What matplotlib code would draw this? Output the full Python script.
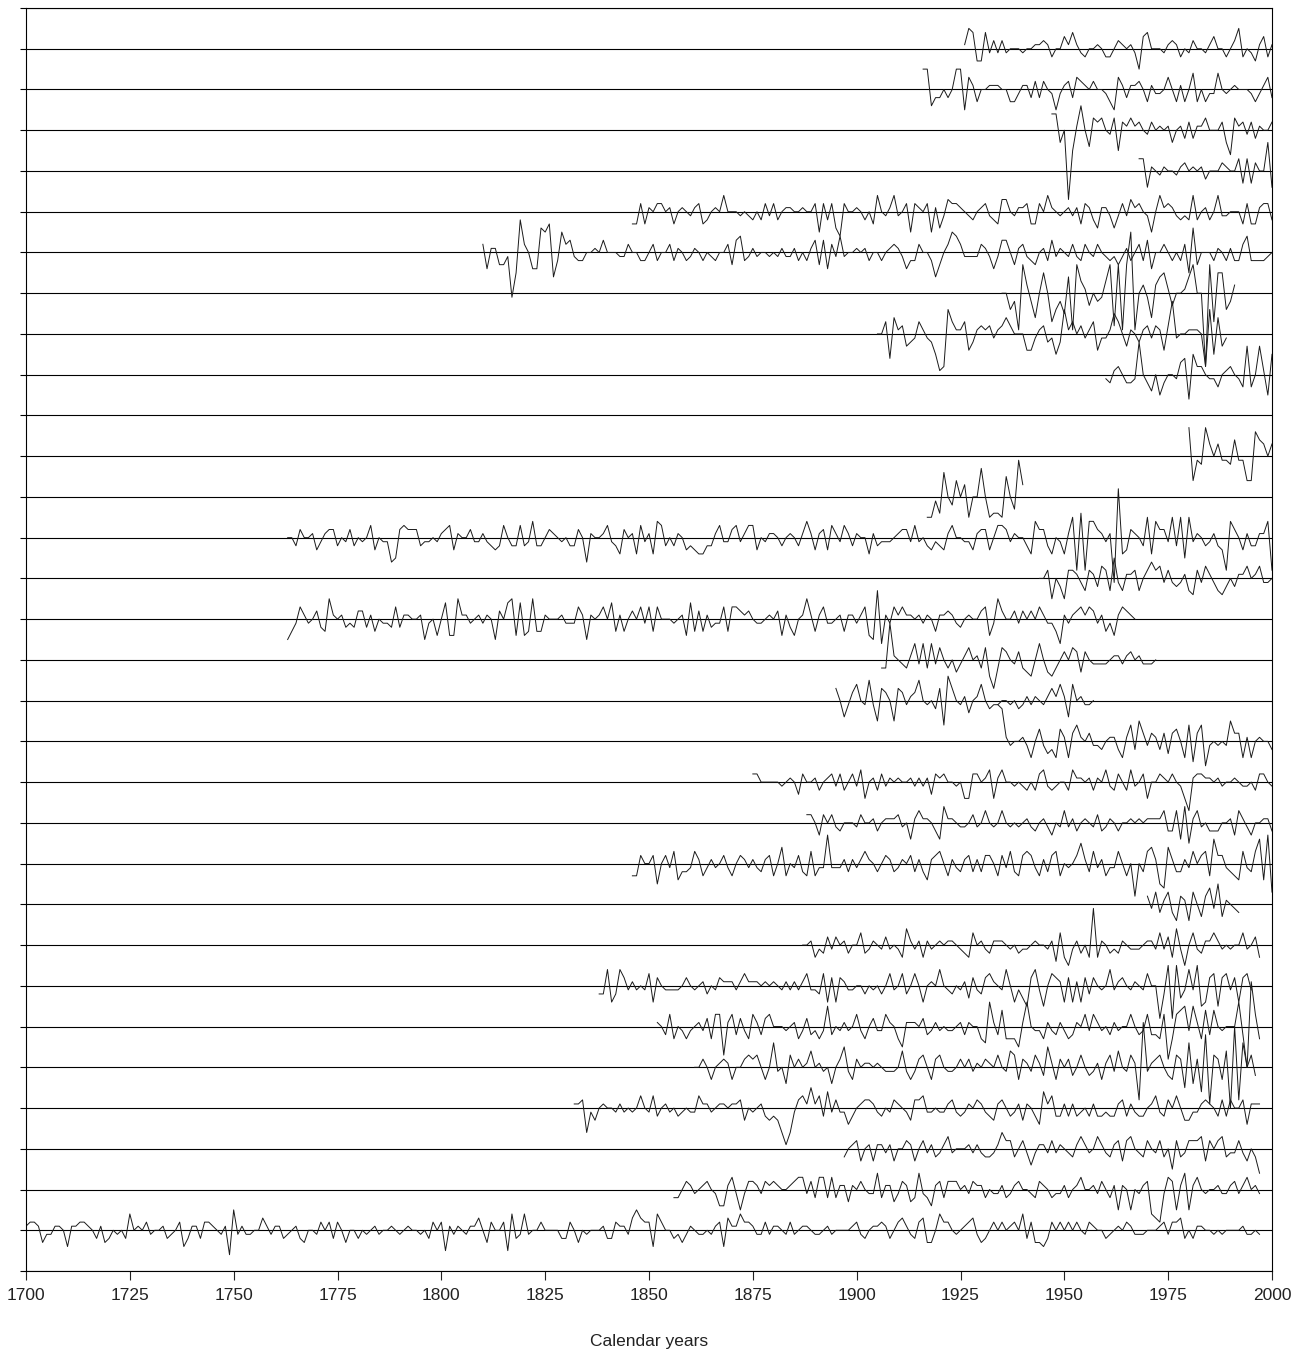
import numpy as np
import matplotlib
matplotlib.use("Agg")
import matplotlib.pyplot as plt

plt.rcParams['font.family'] = ['Liberation Sans', 'DejaVu Sans']

# ring-width series, values in tenths of one row spacing, one value per year
# row number -> (first year, values); row 21 has nothing inside 1700-2000
s01 = [1, 2, 2, 1, -3, -1, -1, 1, 1, 0,
       -4, 1, 1, 2, 2, 1, 0, -2, 1, -3,
       -2, 0, -1, 0, -2, 4, 0, 1, 0, 2,
       -1, 0, 0, 1, -2, -1, 0, 2, -4, -2,
       1, 1, -2, 2, 2, 1, 0, -1, 1, -6,
       5, -1, 1, -1, -1, 0, 0, 3, 1, -1,
       1, 1, -2, -1, 0, 1, -2, -3, 0, 0,
       -1, 2, 0, 2, -2, 2, 0, -3, 0, 0,
       -2, 0, -1, 0, 1, -1, 0, 0, 1, 0,
       -1, 0, 1, 0, 0, -1, 0, -2, 2, 0,
       2, -5, 1, -1, 1, 0, -1, 1, 1, 3,
       0, -3, 2, 0, 0, 2, -5, 4, -2, -1,
       4, -1, 0, 0, 2, 0, 0, 0, 0, -2,
       -2, 2, 0, -3, 0, -1, 0, 0, 0, 1,
       -2, -2, 2, 1, 1, -1, 3,
       5, 3, 2, 2, -4, 4, 2, 0, 0, -2,
       -1, -3, -1, 1, 0, -1, -1, 0, -1,
       1, 2, -4, 3, 1, 1, 4, 2, 2,
       1, -1, -1, 2, -1, 1, 1, 0, -1,
       2, -1, 0, 1, 1, 0, -1, -1, 0,
       1, -1, 0, 0, 0, 0, 1, 2, -1,
       -2, 0, 1, 1, 2, 1, -2, 0, 2, 3,
       1, -1, -2, 2, 3, -3, -3, 0, 4, 2,
       2, 0, -1, 0, 1, 2, 3, -1, -3, -2,
       0, 2, 0, 2, 0, 1, 2, 0, 4, -2,
       2, -3, -3, -4, -2, 2, 0, 2, 0, 2,
       0, 2, 0, -1, 2, 1, 0, 0, -2, -1,
       0, 1, 0, 2, 1, -1, -1, -1, 0, 0,
       0, 1, 2, -1, 2, 2, 3, -2, 0, -2,
       1, 1, 0, 0, -1, 0, -1, 0, 0, 0,
       0, 1, -1, -1, 0, -1]
s02 = [-2, -2, 0, 2, 1, -1, 0, 1, 2,
       0, -1, -4, -4, 1, 3, -1, -5, -1, 2,
       2, 1, -1, 2, 1, 2, 1, 0,
       0, 1, 2, 3, 3, -1, 2, -2,
       3, 3, -2, 3, -2, 1, 1, -3,
       1, 0, 2, 0, -1, -1, 4, -2, 1, 1,
       -3, -1, 2, 1, -3, -2, 4, -1, -2, -4,
       1, 2, -2, 2, 2, 2, 0, 1,
       -1, 2, 1, 1, -2, 0, -1, -1,
       1, -2, -1, 1, 2, 0, 0,
       -1, -2, 2, 1, 0, -2, -1, -1, 1, -2,
       0, 1, 3, 0,
       0, 1, -1, 2, 0, -2, 1, -5, 1, 0,
       -5, 0, -1, 1, 2, -6, -7, -8, -1, 3,
       2, -5, 1, 4, -5, 1, 3, 0, -1, 0,
       0, 1, -1, -1, 1, 2, -1, 1, 3, 0,
       1, -1]
s03 = [-2, 0, 1, 2, -3, 0, 1, -3, 1, 1,
       -1, 1, -3, 0, 0, 2, 1, -3, 0, 2,
       -1, 1, -2, -1, 1, 3, -1, 0, 0,
       0, 1, -1, 1, -1, -2, -2, -1, 1, 4,
       2, 2, -2, 0, 2, -1, -4, -1, 1,
       1, -1, 2, -1, 1, 0, -1, -2,
       1, 3, 1, -1, 0, 3, 1, -1, -2,
       1, 2, -3, 2, 3, 0, -1, -2,
       2, 0, -1, 2, -2, 0, -5, 2, -2,
       -1, 2, 2, 2, 3, -3, 2,
       0, 2, 3, -2, -1, -1, 2, -1, -3, 0,
       -2, -6]
s04 = [1, 1, 2, -6, -1, -3, 0, 1, 0, 0,
       -1, 1, -1, 0, -1, 0, 3,
       0, -1, 3, -2, 0, 1, -1, 0, -2, -1,
       0, -1, -1, 3, 1, 1, -1, 0, 1, 1,
       0, 1, 1, 2, -3, 0, -1, 0,
       1, -2, -3, -2, -3, -6, -9, -6, -1, 2,
       3, 1, 5, 1, 3, -2, 4, -1, 2, -1,
       -1, -4, -2, 0, 1, 2, 2, 1,
       -1, -2, 0, -1, 2, 1, 0, -1,
       -3, 2, 2, 3, -1, -1, 0, -1,
       -1, 1, 2, -1, -2, -1, 1, 0,
       2, 1, -1, -2, -3, 1, 2, 0,
       -2, -1, 1, -3, 1, 0, -2, -4, 4, 1,
       3, -2, -2, 1, -2, 1, -2, -1,
       0, -2, 1, -2, -2, -1, -2, -2,
       1, 2, -2, 1, -1, -2, -2, 0,
       1, 3, -1, -2, 2, 0, 3, 0, -3,
       -3, -1, -1, 1, 2, 1, 0, -2, 2,
       -2, 2, 0, 0, 2, -4, 1, 1, 1]
s05 = [0, 0, 2, 0, -3, 0, 1, 2, 1, -3,
       0, 0, 2, 3, 2, 3, 0, -3, 0, 6,
       -1, 0, -4, 3, 0, 2, 0, 1, 4, 0,
       1,
       -1, 0, -4, 0, 2, 5, -1, -3, 2, 0,
       1, 1, 0, 1, 0, -1, -1, -1, 0, 4,
       -1, -3, -1, 2, 3, 0, -3, 2, 3, 0,
       -1,
       -1, 0, 2, 0, 2, -1, 1, 0, 2, 1,
       0, 3, 0, -1, 4, 3, -3, 2, 1, -1,
       3, 1, -2, 5, 1, -3, 2, 0, 2, -2,
       0,
       3, 0, -2, -1, 1, -3, 1, 3, -1, 4,
       0, -1, 3, 1, -8, 11, -1, 1, 2, 3,
       0, -2, -3, 3, 2, -5,
       6, -4, 2, -6, 8, -9, 3, 2, -3, 4,
       -10, 10, -8, 6, 0, 3, -2]
s06 = [1, 0, -2, 3, -3, 0, -1, -3, -1, 0,
       1, -1, 2, -3, 3, 3, -7, 1, 3, -2,
       2, -1, -3, 3, 1, -2, 2, 3, 0, 0,
       0,
       -1, 0, 1, -3, -1, 2, -2, -1, -3, -1,
       5, -2, 0, -1, 1, -1, 0, 3, -1, -3,
       0, 2, -1, -1, 3, 1, 0, -3, -5, 1,
       1,
       1, 0, 2, -2, -1, 1, -1, 0, -1, -1,
       0, 1, -2, 1, 0, 0, -3, -4, 6, 1,
       -2, 4, -3, -3, -3, -5, 1, 6, 0, -1,
       -1,
       -3, 1, -1, -2, 1, -1, -3, -2, 1, 0,
       3, -1, 3, 1, -1, 0, -2, 1, -1, 0,
       0,
       3, 0, -2, -1, 3, -2, -2, -3, 3, -8,
       -3, 3, 4, 5, -1, 5, 1, -3, 4, -2,
       4, 0, -1, 0, 0, 0, 6, -2, -10, 11,
       3, -3]
s07 = [-2, -2, 4, -4, -2, 4, 2, -1, 1, -1,
       0, -1, 3, -4, 2, 0, -1, -1, -1, -1,
       0, 2, 0, -1, 0, 1, -2, 0, -1, 2,
       1, 1, 1, -1, 1, 3, 1, 1, 1, 0,
       1, 0, 1, 0, -1, 1, -1, 1, -1, 1,
       3, -1, -1, -2, 3, -4, 2, -4, 2, 1,
       -1, -1, 0, 0, -2, 0, -1, 0, -2, 0,
       3, -1, 0, 3, -2, 0, 3, 0, -4, 0,
       1, 0, 4, 0, -1, -2, 0, -1, 1, -3,
       2, -1, -2, 2, 3, 1, 0, -1, 4, 0,
       -4, -1, -3, -5, 2, 4, -1, -5, 0, 3,
       2, 1, -4, 2, -4, 1, -4, 2, -2, 2,
       0, -1, 0, 4, -1, 1, 2, 0, -1, 1,
       0, -1, 3, 0, 0, -8, -2, 5, -8,
       5, -3, -1, 4, -1, 5, -5, -4, 2, 3,
       -5, 2, 3, -1, 2, -4, 2, 3, -1]
s08 = [0, 0, 1, -3, -1, -2, 2, -1, 2, 0, 1,
       -2, 0, 0, 3, -2, -1, 1, 0, -1, 2, -1,
       0, -1, -3, 4, 1, -1, 1, -3, 1, -1, 0,
       1, 0, 1, 1, 0, -1, -2, -3, 3, 0, 1,
       -1, -2, 1, 1, 1, 0, -1, 0, -2, -1, -1,
       0, 1, 0, 0, -1, 1, -4, 3, -3, -5, -1,
       1, -2, 0, -3, 9, -3, 1, 0, -2, -1, -2,
       1, 0, -1, -1, -1, 0, 1, 1, -1, 3,
       -1, 2, -3, 4, -1, -5, 0, 3, -1, -2, 1,
       1, 3, 1, -1, 0, -1, 0, 0, 3, -1,
       0, 2, -3]
s09 = [2, -1, 3, -2, 1, 3, -2, -4, 2, 1,
       -4, 3, 0, -3, 2, 4, -1, 5, -3, 1,
       0, -1, -2]
s10 = [-3, -3, 2, 0, 0, 2, -5, 0, 2,
       -1, 3, -4, -2, -2, -1, 3, 1, -3,
       -1, 1, -1, 0, 2, -1, -3, 0, 2,
       1, -1, 1, -1, -2, 1, 2, -3, 0,
       4, -3, 0, -1, 2, -2, -3, 3, -3,
       -1, -1, 7, -1, -1, -1, 1, -2, 1,
       -1, 1, 3, 1, 0, -2, 0, 2, 1,
       -2, -1, 1, 0, 2, -2, 1, -2, -4,
       1, 2, 3, 0, -3, 1, -1, -2, 1,
       2, -2, 1, -2, 2, 2, 0, -3, 2,
       -1, 3, -2, -3, 2, 3, 2, -1, -3,
       1, -2, 2, 3, -3, 0, -1, 0,
       2, 5, 1, -2, 3, -1, 1, -3, -1,
       -1, 3, 0, -3, 0, -8, 0, -2, 3,
       4, 1, -5, -6, 4, 1, -2, -2, 1,
       -1, 3, 0, 2, 3, -3, 6, 2, 2,
       -1, -2, -3, -4, 3, -1, -2, 3, 6,
       -4, 7, -7]
s11 = [2, 2, 0, -3, 2, 0, 2, -1, -2, 0,
       0, 0, -1, 2, 0, 0, 1, -2, 0, 1,
       1, 1, 2, -1, 0, -4, 1, 3, 1, 1,
       0, -2, -4, 4, 1, 1, 0, -1, -1, 0,
       2, -1, 0, 3, 0, -1, 0, 3, 0, -1,
       0, -1, 0, 1, -1, -2, 0, 1, -1, -3,
       0, -1, 3, -1, 1, -2, 0, 1, 0, -1,
       2, -2, -1, 1, 0, -2, 0, 0, 1, 0,
       1, 0, 1, 1, 1, 1, 3, -2, -2, 3,
       -4, 4, -5, 1, 3, -1, 0, -2, -2, -2,
       0, 0, 1, -3, 3, 1, -1, -3, 0, 0,
       1, 1, -2]
s12 = [2, 2, 0, 0, 0, 0, 0, -1, 0, 1,
       0, -3, 2, 0, 0, 1, -2, 0, 1, 2,
       -1, 2, -2, 0, 2, -1, 3, -4, 0, 1,
       -2, 2, -1, 1, 0, 1, 0, 0, 1, -1,
       1, -1, 1, -3, 2, 1, 2, 0, 0, -1,
       0, -4, -4, 2, 2, 0, 1, 3, -4, 1,
       3, 0, 0, -1, 0, -1, -2, 0, -2, 2,
       3, -1, -2, -1, 0, 0, -2, 3, 1, 1,
       0, 1, -2, 1, 0, 3, -1, -2, 2, 0,
       -2, 3, -1, 0, 2, -4, 0, 0, 2, 1,
       0, 2, 0, -1, -4, -7, 1, 2, 2, 1,
       1, 0, 1, -1, 0, 0, 1, 0, -1, -1,
       0, -2, 2, 2, 0, -1]
s13 = [9, 8, 1, -1, 0, 0, 1, -1, -4, 0,
       3, -1, -3, -2, -4, 3, 1, -4, 2, 4,
       1, 0, 2, -1, -1, -2, 0, 1, 1, -2,
       -4, 1, 4, -2, 5, 2, -1, 2, 1, -2,
       2, -3, 2, 3, 0, -4, 4, -5, 2, 4,
       -6, -1, 0, -1, 0, -1, 5, 2, 2, -4,
       1, -4, 0, 1, 0, 0, -2]
s14 = [3, 0, -4, -1, 2, 4, 0, -1, 5, -1,
       -5, 3, 2, 0, -5, 3, 2, -1, 1, 2,
       5, 0, -1, 0, -2, 3, -6, 6, 3, 0,
       -1, 1, -3, 0, 1, 4, 0, -2, -1, -1,
       0, 0, -1, 0, -2, -1, 1, -1, 1, 0,
       -1, 1, 3, 1, 4, 1, -4, 4, 0, 1,
       -1, -1, 0]
s15 = [-2, -2, 9, 1, 0, -1, -2, 1, 4, -1,
       4, -2, 4, -1, 3, 0, -2, 0, -3, -1,
       1, 3, 0, 1, -2, 3, -4, -7, -2, 3,
       2, 0, -1, 2, -2, -3, -4, 0, 4, 0,
       -3, -4, -2, 0, 2, 0, 3, 2, -3, 2,
       0, -1, -1, -1, -1, 0, 1, 1, -1, 1,
       2, 0, 1, -1, -1, -1, 0]
s16 = [-5, -3, -1, 3, 1, -1, 0, 2, -2, -3,
       5, 1, 0, 1, -2, -1, -2, 2, 2, -2,
       1, -3, 0, -1, -1, -2, 3, -2, 1, 1,
       0, 0, 1, -5, -1, 0, -4, 0, 4, -4,
       -4, 5, 1, 1, -1, 0, 1, -1, 1, 0,
       -5, 2, 0, 4, 5, -4, 4, -4, -3, 5,
       -3, -3, 1, 0, 0, 0, 1, -1, -1, -1,
       3, 1, -5, 1, 0, 1, 3, 0, 4, -3,
       1, -3, 0, 2, 0, 3, -1, 3, -3, 3,
       0, 0, 0, -1, 0, 1, -4, 4, -3, 2,
       -3, 1, -2, -1, -1, 3, -3, 3, 3,
       2, 1, 2, 0, -1, -1, 0, 1, 0, 2,
       -4, 1, -2, -4, 0, 1, 5, 1, -3, 1,
       3, -1, -1, 0, 1, -3, 1, 1, -1, 1,
       3, -4, -5, 7, -6, 1, -1, 3, 1, 3,
       1, 1, 0, 1, -1, 1, 0, -3, 1, 1,
       2, 1, -1, -2, 0, 1, 0, 0, 2, 3,
       -4, -1, 5, 2, 0, 0, 2, -1, 2, 0,
       2, 0, 3, 1, -1, -1, -3, -6, 1, -1,
       1, 2, 3, 1, 3, 2, -1, 1, -3, -1,
       -4, 1, 3, 2, 1, 0]
s17 = [0, 0, 2, -5, 0, -2, -5, 2, 2, 1,
       -1, -3, 2, 1, -2, 3, 2, -3, 5, -1,
       -3, 1, 1, 2, -3, 0, 2, 4, 2, 3,
       -1, 2, -1, -2, -1, 1, -3, -4, 2, -1,
       3, 1, -1, -3, -4, -2, 0, -2, 1, 1,
       3, 0, 1, 3, -1, -1, 0]
s18 = [0, 0, -2, 2, 0, 0, 1, -3, -1, 1,
       2, 2, -2, 0, -1, 2, -2, 0, -1, 0,
       3, -3, 0, -1, -1, -6, -5, 2, 3, 2,
       2, 2, -2, -1, -1, 0, -1, 1, 2, 3,
       -3, 1, 0, 0, 2, -1, -1, 1, -1, -2,
       -3, -2, 3, 0, -2, -2, 3, -2, -1, 4,
       -2, -2, 0, 2, 1, 0, -1, 0, -2, -2,
       2, 0, -6, 1, 0, 0, 1, 3, -1, -2,
       -4, 2, 0, 1, -4, 3, -1, 1, -4, 4,
       3, -2, 0, -2, 1, 0, -3, -2, -3, -4,
       -4, -2, -2, 1, 3, -1, -1, 2, 3,
       -1, 1, 3, 3, -3, 0, -1, 1, 1, 0,
       -2, 0, 1, 0, -2, 1, 4, 1, -3, 1,
       2, -3, 3, 1, -1, 3, 1, -2, 1, 0,
       0, -4, 1, -2, -1, -1, -1, 0, 1, 2,
       2, -1, 3, -1, 0, -2, -3, -1, -2, -3,
       1, 3, 0, 0, -1, -1, -3, 1, 2, 2,
       -3, 0, 3, 3, 2, -1, 1, 0, 0, -2,
       -4, 4, 2, 2, -2, -4, 0, -1, -4, 1,
       5, -8, 6, -8, 4, 4, 2, 1, -1, 1,
       -11, 12, -4, -3, 2, 1, 0, -2, 5, -4,
       4, 2, 2, -1, 5, -2, 5, -5, 5, -1,
       1, 0, -2, -1, 1, -2, -3, -8, 4, 2,
       0, -3, 1, -2, -2, 1, 1, 4, -8]
s19 = [-5, -5, -1, -4, 6, 0, -2, 4, 0, 3,
       -5, 0, 0, 7, 0, -5, -4, -4, -5, 5,
       0, -3, 9, 3]
s20 = [7, -6, -1, -2, 7, 3, 0, 3, -1, -1,
       -2, 4, -1, -1, -6, -6, 6, 4, 3, 0,
       3]
s22 = [-1, -2, 1, 2, 0, -2, -2, -1, 8, 0,
       -2, -4, 0, -5, -2, 0, 0, -1, 3, 4,
       -6, 5, 2, 2, 0, -1, -1, -3, 0, 1,
       2, 0, -1, -3, 7, -3, 0, 7, 1, -5,
       5]
s23 = [0, 0, 3, -6, 4, 1, 2, -3, -2, -1,
       3, 1, -1, -2, -5, -9, -8, 6, 3, 1,
       1, 3, -4, -2, 1, 2, 1, 2, -1, 1,
       2, 4, 2, 0, 0, 0, -4, -4, -1, 1,
       2, -2, -1, -5, -2, 6, 1, 3, 0, 2,
       -1, 1, 3, -4, -1, -1, 1, 5, 3, 0,
       -3, 1, 0, -2, 1, 2, -1, 2, 1, -4,
       2, 8, -1, 0, 0, 1, 1, 1, 0, -8,
       6, -5, 4, -3, -1]
s24 = [0, 0, -4, -2, -9, 7, 2, -2, -6, 0,
       5, 0, -7, -4, -2, -5, 4, -9, 7, 3,
       1, -3, 0, -2, -1, 3, 7, -8, 7, -9,
       7, 15, -9, 0, 2, -1, -6, 2, 4, 5,
       1, -3, 0, 0, 1, 4, 7, 0, 0, -18,
       7, -7, 5, 5, -4, -2, 2]
s25 = [2, -4, 1, 1, -3, -3, -1, -11, -5, 8,
       2, 0, -4, -4, 6, 5, 7, -6, -2, 5,
       2, 3, -1, -2, -2, 0, 0, 1, 0, 3,
       0, 0, 0, -1, -1, 2, 0, 0, -2, -2,
       0, 2, -2, 0, 0, 2, -2, 1, 0, -2,
       -1, 1, 0, -2, 0, -1, -2, 0, 0, 2,
       -3, 3, 4, -2, -1, 1, -1, 0, 0, -1,
       0, -1, 1, -1, -1, 1, -2, 0, -2, 1,
       3, -3, 3, -4, 2, -1, 4, -1, 0, 0,
       1, 0, 1,
       -2, 0, 0, -2, 0, 1, 2, 1, -1, -4,
       -2, -2, 2, 0, 0, -2, -6, -3, 0, 2,
       5, 4, 2, -1, -1, -1, -1, 2, 1, -1,
       -4, -1, 3, 3, 0, -3, 1, 2, -1, -2,
       -3, 0, 1, -2, 3, -1, 1, 0, -1, 2,
       -1, -2, 2, 0, -1, 2, 0, -1, -2, -1,
       -3, -1, 1, -2, 0, 2, -2, 3, -4, 0,
       0, 2, 0, -2, 0, -2, 2, -5, 6, -3,
       0, 0, 0, -2, 1, 0, -2, 1, -2, -2,
       2, 4, -2, -2, -2, -2, -1, 0]
s26 = [-3, -3, 2, -3, 1, 0, 2, 2, 0, 1,
       -3, 0, 1, 0, -1, 1, 2, -3, -2, 0,
       1, 0, 4, 0, 0, 0, -1, 0, -1, -2,
       0, -2, 2, -1, 2, -2, 0, 1, 1, 0,
       0, 1, 0, 0, 2, -5, 2, -2, 2, -4,
       -6, 2, 0, 0, 1, 0, -2, 0,
       -3, 4, 0, -1, 1, 4, -1, 0, 2, -5,
       2, 1, 0, 2, -5, 1, -4, -1, 3, 2,
       2, 1, 0, -1, -2, 0, 1, 2, -1, -2,
       -3, 3, 3, 0, -1, 1, 1, 2, -3, -3,
       2, 0, 4, 1, 0, -1, 0, 1, -1, 1,
       -3, 2, 1, -2, -4, 1, 1, -1, -4, -1,
       2, -1, 3, 1, 2, 0, -1, -5, 0, 4,
       1, 2, 1, -1, -2, -1, -2, 4, -2, 0,
       1, -2, 0, 4, -1, -1, 0, 0, 0, -3,
       2, -3, -3, 1, 2, 2, -2]
s27 = [3, 3, -4, 1, 0, -1, 1, 0, 0, -1,
       1, 2, 0, 1, 0, 1, -2, 0, 0, 0,
       2, 1, 0, 0, 3, -3, 3, -3, 2, 0,
       0, 7, -4]
s28 = [4, 4, -3, 0, -17, -5, 1, 6, 0, -4,
       3, 2, 3, 0, -1, 3, -5, 2, 1, 3,
       1, 2, 0, -1, 2, 0, 1, 0, 1, -3,
       0, 1, -2, 2, -2, 1, 1, 3, 0, 0,
       0, 2, -3, -6, 3, 1, 2, -1, 2, -2,
       1, 0, 0, 2]
s29 = [5, 5, -4, -2, -2, 0, -2, 0, 5, 5,
       -5, 3, 1, -3, 0, 0, 1, 1, 1, 0,
       0, -3, -3, -1, 1, 1, -2, 2, -2, 2,
       0, -1, -5, -1, 1, 2, -2, 3, 2, 1,
       0, 2, 0, 0, -1, -3, -5, 3, 1, -2,
       1, 1, 2, 0, -3, 1, -1, -1, 0, 3,
       0, -3, 1, -3, 0, 4, -3, 0, -3, -1,
       -1, 4, 0, -1, 0, 1, 0, 0, 0, -1,
       -3, -1, 1, 3, -2]
s30 = [1, 5, 4, -3, -3, 4, -1, 2, -1, 2,
       -1, 0, 0, 0, -1, 0, 0, 1, 1, 2,
       1, -2, 0, 0, 3, 1, 4, 1, -1, -2,
       0, 0, 1, 0, -2, -2, 0, 2, 1, 0,
       1, -1, -5, 3, 4, 0, 0, 0, -1, 1,
       2, 1, -2, 0, -1, 2, 0, 0, -1, 1,
       3, 0, 0, -2, 0, 2, 5, -2, 0, -1,
       -3, 1, 3, -2, 1]

first_years = {1: 1700, 2: 1856, 3: 1897, 4: 1832, 5: 1861, 6: 1852,
               7: 1838, 8: 1887, 9: 1970, 10: 1846, 11: 1888, 12: 1875,
               13: 1934, 14: 1895, 15: 1906, 16: 1763, 17: 1944, 18: 1763,
               19: 1917, 20: 1980, 22: 1960, 23: 1905, 24: 1935, 25: 1810,
               26: 1846, 27: 1968, 28: 1947, 29: 1916, 30: 1926}
row_values = {1: s01, 2: s02, 3: s03, 4: s04, 5: s05, 6: s06, 7: s07,
              8: s08, 9: s09, 10: s10, 11: s11, 12: s12, 13: s13, 14: s14,
              15: s15, 16: s16, 17: s17, 18: s18, 19: s19, 20: s20,
              22: s22, 23: s23, 24: s24, 25: s25, 26: s26, 27: s27,
              28: s28, 29: s29, 30: s30}

year_ticks = list(range(1700, 2001, 25))
n_rows = 31

fig = plt.figure(figsize=(13.05, 13.51), dpi=100)
ax = fig.add_axes([26 / 1305, 1 - 1271 / 1351, 1246 / 1305, 1263 / 1351])

# baselines for every row, including the frame edges
for i in range(n_rows + 1):
    ax.axhline(i, color='black', lw=0.8, zorder=1)

for row, vals in row_values.items():
    start = first_years[row]
    years = np.arange(start, start + len(vals))
    ax.plot(years, row + np.array(vals) / 10.0, color='#1a1a1a', lw=0.7,
            zorder=2)

ax.set_xlim(1700, 2000)
ax.set_ylim(0, n_rows)
ax.set_xticks(year_ticks)
ax.set_xticklabels([str(y) for y in year_ticks], fontsize=12.5)
ax.set_yticks(range(n_rows + 1))
ax.set_yticklabels([])
ax.tick_params(axis='x', length=6.5, width=0.8, pad=6, colors='#222222')
ax.tick_params(axis='y', length=4.5, width=0.8)
for sp in ax.spines.values():
    sp.set_linewidth(0.8)
ax.set_xlabel('Calendar years', fontsize=12.5, labelpad=22, color='#222222')

fig.savefig('out.png', dpi=100)
